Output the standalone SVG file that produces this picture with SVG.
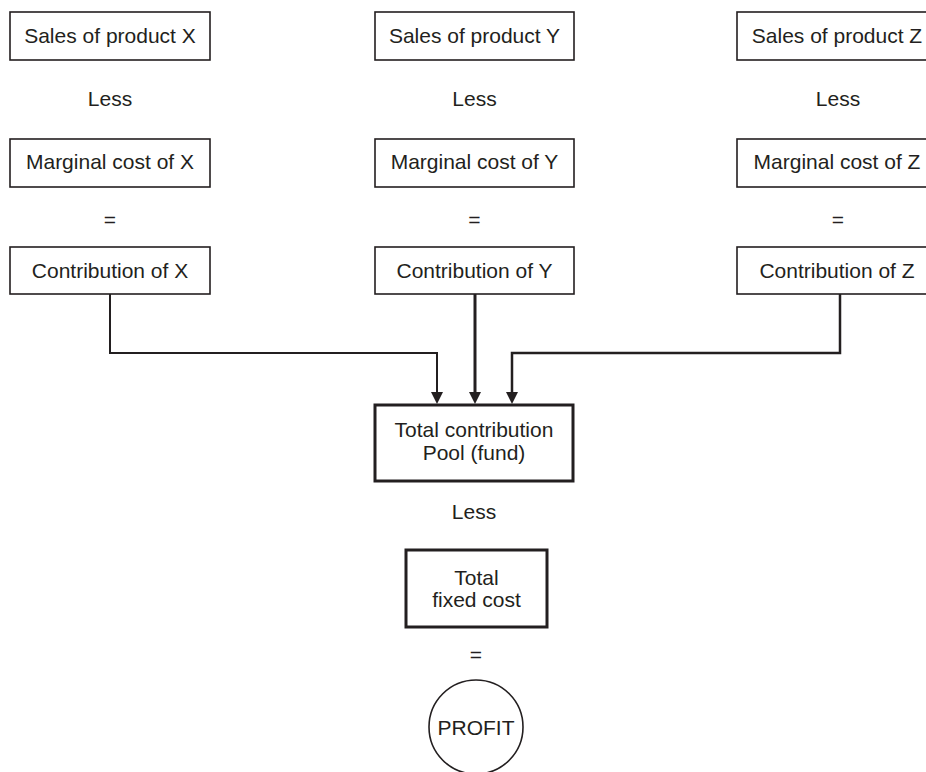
<svg xmlns="http://www.w3.org/2000/svg" width="926" height="772" viewBox="0 0 926 772">
<style>
text{font-family:"Liberation Sans",Arial,sans-serif;font-size:21px;fill:#231f20;text-anchor:middle}
.box{fill:#fff;stroke:#231f20;stroke-width:1.6}
.bold{fill:#fff;stroke:#231f20;stroke-width:3}
.conn{fill:none;stroke:#231f20;stroke-linejoin:miter}
</style>
<defs>
<marker id="arr" markerUnits="userSpaceOnUse" markerWidth="12" markerHeight="12" refX="0" refY="6" orient="auto" overflow="visible">
<path d="M0,0 L12,6 L0,12 z" fill="#231f20"/>
</marker>
</defs>
<rect width="926" height="772" fill="#fff"/>
<g id="connectors">
<path class="conn" stroke-width="2" d="M110,294 V353 H437 V392" marker-end="url(#arr)"/>
<path class="conn" stroke-width="3" d="M475,294 V392" marker-end="url(#arr)"/>
<path class="conn" stroke-width="2.5" d="M840,294 V353 H512 V392" marker-end="url(#arr)"/>
</g>
<g id="salesX"><rect class="box" x="10" y="12" width="200" height="48"/><text x="110" y="43">Sales of product X</text></g>
<g id="lessX"><text x="110" y="106">Less</text></g>
<g id="mcX"><rect class="box" x="10" y="139" width="200" height="48"/><text x="110" y="169">Marginal cost of X</text></g>
<g id="eqX"><text x="110" y="227">=</text></g>
<g id="contX"><rect class="box" x="10" y="247" width="200" height="47"/><text x="110" y="278">Contribution of X</text></g>

<g id="salesY"><rect class="box" x="375" y="12" width="199" height="48"/><text x="474.5" y="43">Sales of product Y</text></g>
<g id="lessY"><text x="474.5" y="106">Less</text></g>
<g id="mcY"><rect class="box" x="375" y="139" width="199" height="48"/><text x="474.5" y="169">Marginal cost of Y</text></g>
<g id="eqY"><text x="474.5" y="227">=</text></g>
<g id="contY"><rect class="box" x="375" y="247" width="199" height="47"/><text x="474.5" y="278">Contribution of Y</text></g>

<g id="salesZ"><rect class="box" x="737" y="12" width="200" height="48"/><text x="837" y="43">Sales of product Z</text></g>
<g id="lessZ"><text x="838" y="106">Less</text></g>
<g id="mcZ"><rect class="box" x="737" y="139" width="200" height="48"/><text x="837" y="169">Marginal cost of Z</text></g>
<g id="eqZ"><text x="838" y="227">=</text></g>
<g id="contZ"><rect class="box" x="737" y="247" width="200" height="47"/><text x="837" y="278">Contribution of Z</text></g>

<g id="pool"><rect class="bold" x="375" y="405" width="198" height="76"/><text x="474" y="437">Total contribution</text><text x="474" y="460">Pool (fund)</text></g>
<g id="lessPool"><text x="474" y="519">Less</text></g>
<g id="fixed"><rect class="bold" x="406" y="550" width="141" height="77"/><text x="476.5" y="585">Total</text><text x="476.5" y="607">fixed cost</text></g>
<g id="eqFixed"><text x="476" y="662">=</text></g>
<g id="profit"><circle cx="476" cy="727" r="47" fill="#fff" stroke="#231f20" stroke-width="1.6"/><text x="476" y="734.5">PROFIT</text></g>
</svg>
